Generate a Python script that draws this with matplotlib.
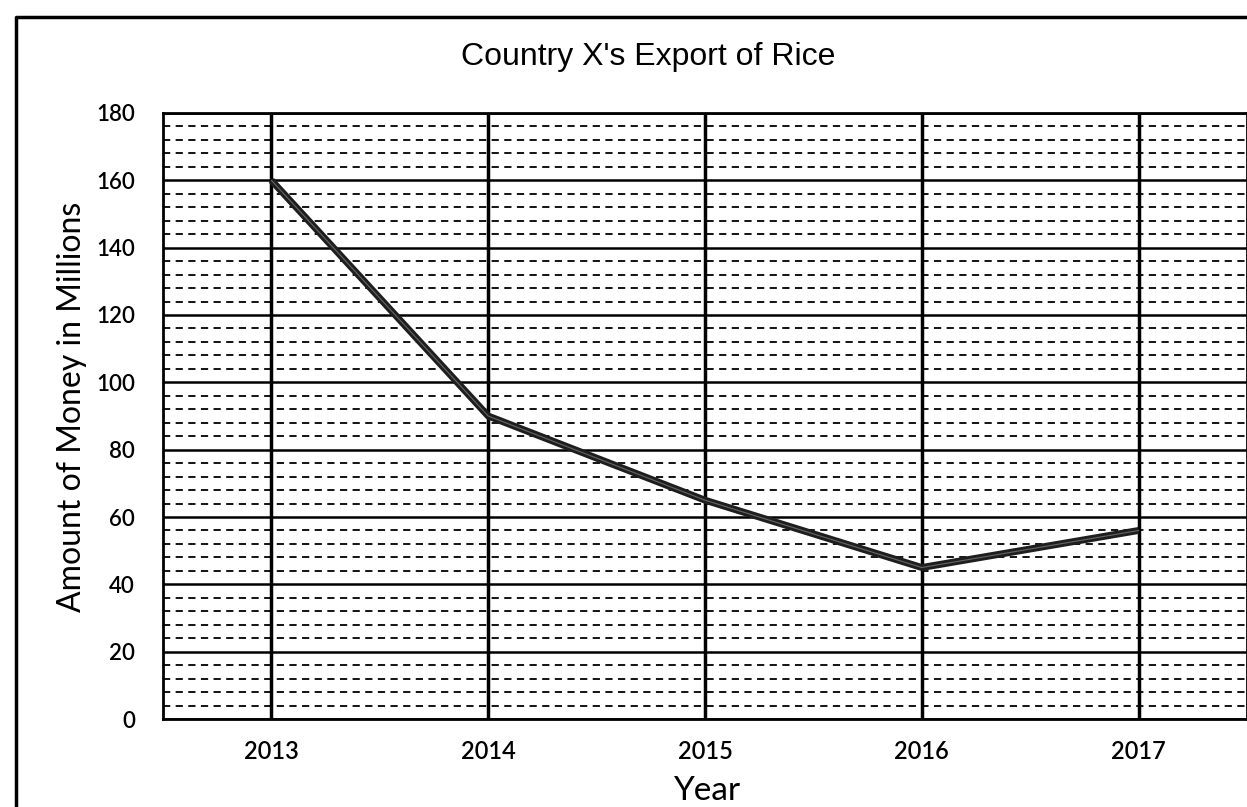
import matplotlib.pyplot as plt
from matplotlib.lines import Line2D
from matplotlib.ticker import MultipleLocator

# data
years = [2013, 2014, 2015, 2016, 2017]
money = [160, 90, 65, 45, 56]
y_ticks = [0, 20, 40, 60, 80, 100, 120, 140, 160, 180]

fig = plt.figure(figsize=(12.47, 8.07), dpi=100)
ax = fig.add_axes([0.1307, 0.109, 0.8693, 0.751])

# grid: solid majors, short dashed minors
ax.set_xlim(2012.5, 2017.5)
ax.set_ylim(0, 180)
ax.set_xticks(years)
ax.set_yticks(y_ticks)
ax.yaxis.set_minor_locator(MultipleLocator(4))
ax.grid(axis='x', which='major', color='black', lw=2.5)
ax.grid(axis='y', which='major', color='black', lw=1.8)
ax.grid(axis='y', which='minor', color='black', lw=1.3, ls=(0, (4, 3)))
ax.tick_params(which='both', length=0)
ax.tick_params(axis='y', pad=20)
ax.tick_params(axis='x', pad=15)
for s in ax.spines.values():
    s.set_linewidth(2)
    s.set_color('black')

# the series
ax.plot(years, money, color='#1e1e1e', lw=5, solid_capstyle='butt', zorder=3)
ax.plot(years, money, color='#666666', lw=0.8, zorder=4)

for lab in ax.get_yticklabels():
    lab.set_family('Lato')
    lab.set_fontsize(16)
    lab.set_fontweight('semibold')
for lab in ax.get_xticklabels():
    lab.set_family('Lato')
    lab.set_fontsize(17)
    lab.set_fontweight('semibold')

# labels
fig.text(0.52, 0.929, "Country X's Export of Rice", ha='center', va='center',
         family='Liberation Sans', fontsize=23)
fig.text(0.058, 0.496, 'Amount of Money in Millions', rotation=90,
         ha='center', va='center', family='Lato', fontsize=23)
fig.text(0.567, 0.020, 'Year', ha='center', va='center',
         family='Lato', fontsize=24)

# outer page frame of the scan
fig.add_artist(Line2D([0.0125, 0.0125, 1.0], [0.0, 0.979, 0.979],
                      transform=fig.transFigure, color='black', lw=2.5))

fig.savefig('out.png', dpi=100)
